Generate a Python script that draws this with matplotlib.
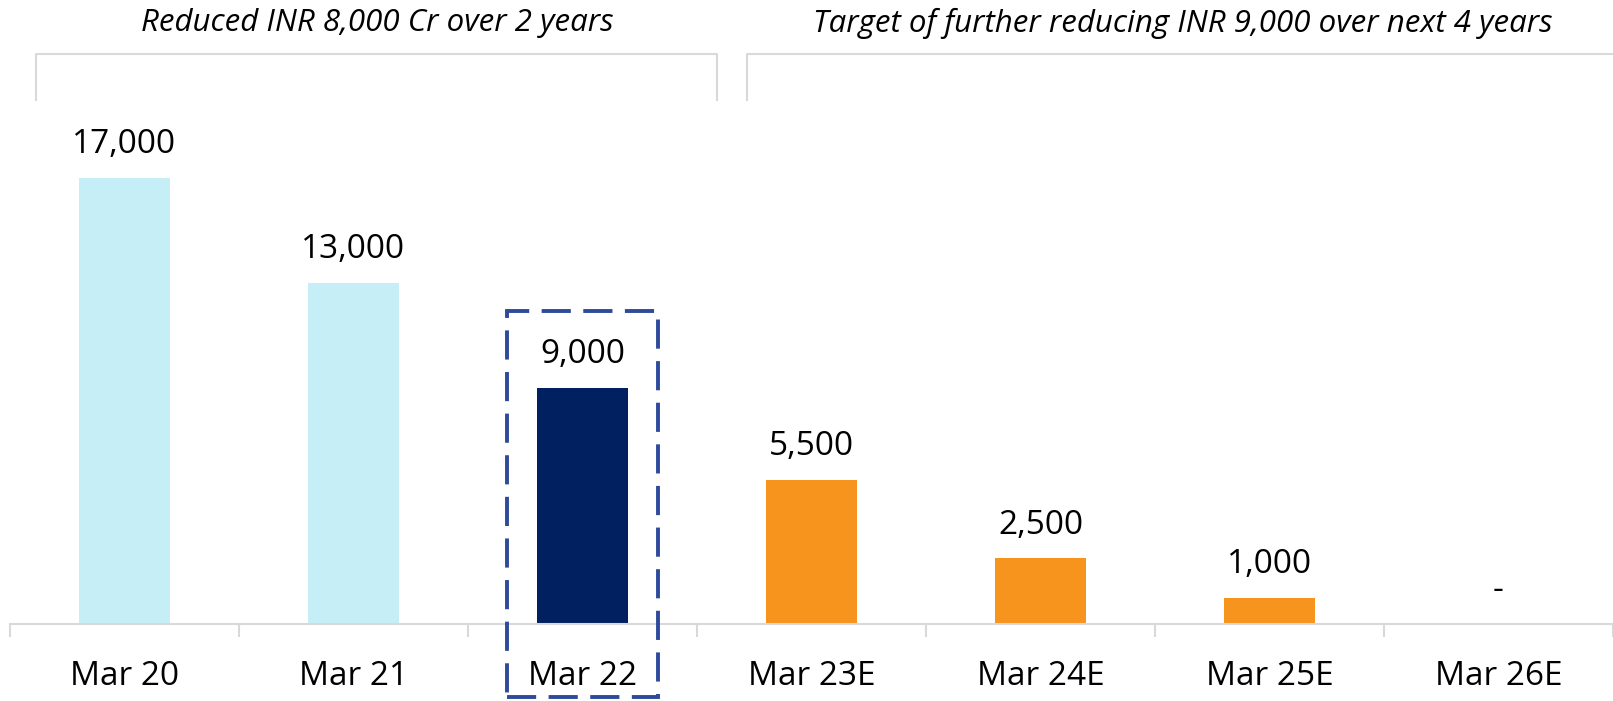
import numpy as np
import matplotlib as mpl
from matplotlib import pyplot as plt
from matplotlib.patches import Rectangle

# 数据
periods = ['Mar 20', 'Mar 21', 'Mar 22', 'Mar 23E', 'Mar 24E', 'Mar 25E', 'Mar 26E']
debt = [17000, 13000, 9000, 5500, 2500, 1000, 0]
colors = ['#C6EEF6', '#C6EEF6', '#002060', '#F7941D', '#F7941D', '#F7941D', '#F7941D']
note_left = 'Reduced INR 8,000 Cr over 2 years'
note_right = 'Target of further reducing INR 9,000 over next 4 years'

plt.rcParams['font.family'] = ['Open Sans', 'DejaVu Sans']

W, H = 1613, 701
fig = plt.figure(figsize=(W / 100, H / 100), dpi=100)
# 坐标轴：底部 y=624px，顶部到图顶
ax = fig.add_axes([10 / W, (H - 624) / H, 1603 / W, 624 / H])
x = np.arange(len(periods))
ax.bar(x, debt, width=0.40, color=colors, zorder=2)
ax.set_xlim(-0.5, len(periods) - 0.5)
ax.set_ylim(0, 23780)

for i, v in zip(x, debt):
    txt = '-' if v == 0 else '{:,}'.format(v)
    ax.annotate(txt, (i, v), xytext=(0, 24), textcoords='offset points',
                ha='center', va='center', fontsize=24, color='black')

# 坐标轴样式
for s in ['top', 'right', 'left']:
    ax.spines[s].set_visible(False)
ax.spines['bottom'].set_color('#d9d9d9')
ax.spines['bottom'].set_linewidth(1.5)
ax.set_yticks([])
ax.set_xticks(x)
ax.set_xticklabels(periods, fontsize=24)
ax.tick_params(axis='x', which='major', length=0, pad=26)
ax.set_xticks(np.arange(-0.5, len(periods), 1), minor=True)
ax.tick_params(axis='x', which='minor', length=9, width=1.5, color='#d9d9d9')

# Mar 22 虚线框
k = periods.index('Mar 22')
box_bottom, box_top = -2780, 11930
box = Rectangle((k - 0.33, box_bottom), 0.66, box_top - box_bottom, fill=False,
                edgecolor='#2E4A9A', linewidth=2.8, linestyle=(0, (7.5, 3.2)),
                clip_on=False, zorder=3)
ax.add_patch(box)

# 顶部括号
def bracket(x0, x1):
    y0, y1 = 1 - 100 / H, 1 - 53.5 / H
    fig.add_artist(plt.Line2D([x0 / W, x0 / W, x1 / W, x1 / W], [y0, y1, y1, y0],
                              color='#d9d9d9', linewidth=1.5))

bracket(36, 717)
bracket(747, 1625)
fig.text(377 / W, 1 - 23 / H, note_left, ha='center', va='center',
         fontsize=22.5, style='italic')
fig.text(1183 / W, 1 - 23 / H, note_right, ha='center', va='center',
         fontsize=22.5, style='italic')

plt.savefig('out.png', dpi=100)
